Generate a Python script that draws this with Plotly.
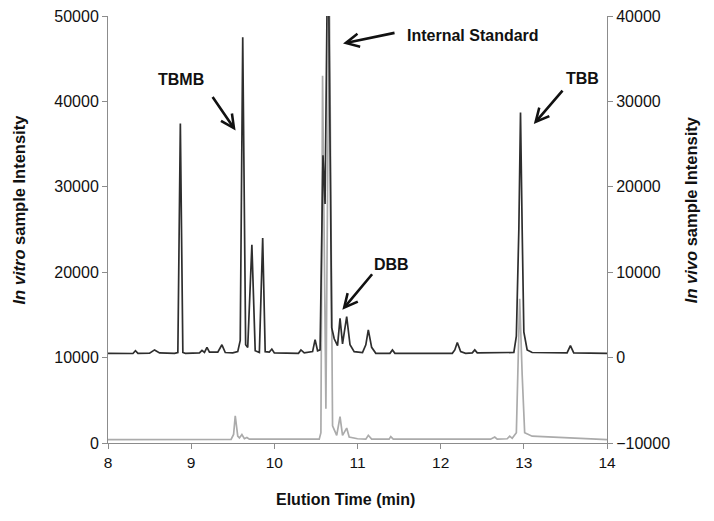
import plotly.graph_objects as go

# black trace (in vivo, right axis)
vivo_time = [8.00, 8.30, 8.33, 8.36, 8.50, 8.56, 8.62, 8.80, 8.84, 8.87, 8.90, 8.93,
             9.10, 9.13, 9.16, 9.19, 9.22, 9.32, 9.37, 9.41, 9.50, 9.56, 9.59, 9.62,
             9.655, 9.68, 9.73, 9.77, 9.82, 9.86, 9.89, 9.94, 9.97, 10.00, 10.29, 10.32,
             10.36, 10.46, 10.49, 10.52, 10.55, 10.585, 10.61, 10.645, 10.69, 10.72, 10.76,
             10.79, 10.82, 10.87, 10.91, 10.96, 11.06, 11.10, 11.13, 11.17, 11.22, 11.39,
             11.42, 11.45, 12.14, 12.17, 12.20, 12.24, 12.30, 12.38, 12.41, 12.44, 12.88,
             12.91, 12.94, 12.96, 12.98, 13.00, 13.04, 13.10, 13.52, 13.56, 13.60, 14.00]
vivo_int = [500, 480, 800, 500, 520, 900, 550, 500, 600, 27400, 600, 500,
            550, 850, 600, 1200, 650, 650, 1500, 600, 550, 700, 2000, 37500,
            1500, 1200, 13200, 800, 600, 14000, 700, 650, 1000, 550, 500, 900,
            550, 700, 2100, 800, 900, 23700, 18000, 52000, 3500, 2200, 1400,
            4600, 1600, 4800, 1500, 700, 600, 1500, 3250, 1200, 500, 500,
            900, 500, 500, 900, 1760, 700, 500, 550, 900, 550, 600,
            2500, 15000, 28700, 15000, 3000, 900, 600, 550, 1400, 550, 500]

# grey trace (in vitro, left axis)
vitro_time = [8.00, 9.48, 9.51, 9.53, 9.56, 9.58, 9.61, 9.64, 9.67, 9.70, 10.54, 10.56,
              10.58, 10.62, 10.66, 10.70, 10.75, 10.79, 10.82, 10.87, 10.90, 11.00, 11.10,
              11.13, 11.17, 11.38, 11.40, 11.43, 12.60, 12.65, 12.68, 12.80, 12.83, 12.86,
              12.91, 12.95, 12.98, 13.01, 13.10, 13.50, 14.00]
vitro_int = [400, 420, 1000, 3190, 800, 600, 1000, 500, 650, 450, 450, 1200,
             43000, 4000, 55000, 2000, 900, 3100, 900, 1750, 700, 500, 450,
             900, 450, 450, 750, 450, 450, 700, 450, 500, 800, 550,
             1200, 16900, 8000, 1200, 800, 600, 400]

fig = go.Figure()
fig.add_trace(go.Scatter(x=vitro_time, y=vitro_int, mode="lines",
                         line=dict(color="#ababab", width=1.7), yaxis="y"))
fig.add_trace(go.Scatter(x=vivo_time, y=vivo_int, mode="lines",
                         line=dict(color="#2e2e2e", width=1.7), yaxis="y2"))

font = "Liberation Sans, Arial, sans-serif"
axcol = "#8c8c8c"

# the page body adds 8px, so margins are shifted to compensate
fig.update_layout(
    width=714, height=521,
    margin=dict(l=100, r=115, t=8, b=86),
    paper_bgcolor="white", plot_bgcolor="white",
    showlegend=False,
    font=dict(family=font, size=15, color="#111"),
    xaxis=dict(range=[8, 14], dtick=1, showgrid=False, zeroline=False,
               showline=True, linecolor=axcol, ticks="outside", tickcolor=axcol,
               ticklen=5, automargin=False, tickfont=dict(size=15.5)),
    yaxis=dict(range=[0, 50000], dtick=10000, tickformat="d", showgrid=False,
               zeroline=False, showline=True, linecolor=axcol, ticks="outside",
               tickcolor=axcol, ticklen=5, automargin=False,
               tickfont=dict(size=16), ticklabeloverflow="allow"),
    yaxis2=dict(range=[-10000, 40000], dtick=10000, tickformat="d", overlaying="y",
                side="right", showgrid=False, zeroline=False, showline=True,
                linecolor=axcol, ticks="outside", tickcolor=axcol, ticklen=5,
                automargin=False, tickfont=dict(size=16), ticklabeloverflow="allow"),
)

# axis titles
titles = [("<b>Elution Time (min)</b>", 0.475, -0.133, 0, 16),
          ("<b><i>In vitro</i> sample Intensity</b>", -0.179, 0.546, -90, 16.5),
          ("<b><i>In vivo</i> sample Intensity</b>", 1.169, 0.546, -90, 16.5)]
for txt, x, y, ang, size in titles:
    fig.add_annotation(xref="paper", yref="paper", x=x, y=y, text=txt,
                       xanchor="center", yanchor="middle",
                       textangle=ang, showarrow=False, font=dict(size=size, color="#111"))

# peak labels
labels = [("TBMB", 8.88, 42600, "center"), ("Internal Standard", 11.567, 47700, "left"),
          ("DBB", 11.408, 20900, "center"), ("TBB", 13.71, 42700, "center")]
for txt, x, y, anc in labels:
    fig.add_annotation(x=x, y=y, text="<b>" + txt + "</b>", showarrow=False,
                       xanchor=anc, font=dict(size=16, color="#111"))

# arrows: head (x, y) and tail offset in px
arrows = [(9.534, 36600, -24, -35), (10.826, 46770, 53, -11),
          (10.818, 15600, 31, -37), (13.12, 37340, 30, -35)]
for x, y, ax, ay in arrows:
    fig.add_annotation(x=x, y=y, ax=ax, ay=ay, text="", showarrow=True,
                       arrowhead=5, arrowsize=1, arrowwidth=2.6, arrowcolor="#111",
                       standoff=0)

fig.write_html("out.html")
